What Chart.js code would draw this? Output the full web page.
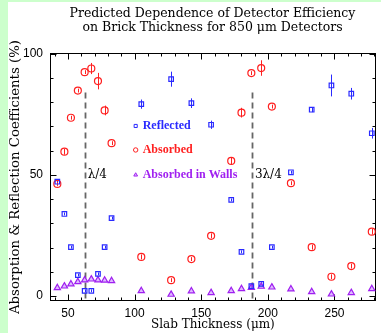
<!DOCTYPE html>
<html><head><meta charset="utf-8">
<script src="https://cdn.jsdelivr.net/npm/chart.js@4"></script>
<style>
html,body{margin:0;padding:0;background:#ccffcc;width:381px;height:333px;overflow:hidden}
#wrap{position:absolute;left:8px;top:2px;width:373px;height:331px;background:#fff}
</style></head><body>
<div id="wrap"><canvas id="c" width="373" height="331"></canvas></div>
<script>
const titleLines = ["Predicted Dependence of Detector Efficiency", "on Brick Thickness for 850 \u03bcm Detectors"];
const xTickLabels = [50, 100, 150, 200, 250];
const yTickLabels = [0, 50, 100];
const thickness = [42, 47.3, 52.2, 57.4, 62.5, 67.5, 72.5, 77.5, 82.7, 105, 127.4, 142.6, 157.4, 172.5, 180.2, 187.6, 195, 203, 217.3, 232.9, 247.7, 262.6, 278];
const reflected = [47.2, 33.9, 20.2, 8.7, 2.2, 2.2, 9.2, 20.2, 32.2, 79.2, 89.5, 79.6, 70.7, 39.7, 18.3, 4.1, 5.1, 20.2, 51.1, 76.9, 86.9, 83.5, 67.2];
const reflectedErr = [0.8, 0.6, 0.6, 0.6, 0.6, 0.6, 0.6, 0.6, 0.6, 1.9, 3.1, 2.0, 1.7, 0.6, 0.6, 0.6, 0.6, 0.6, 0.6, 1.0, 4.5, 2.4, 2.2];
const absorbed = [46.3, 59.6, 73.6, 84.8, 92.4, 93.9, 88.7, 76.6, 63.1, 16.2, 6.6, 15.3, 24.9, 55.8, 75.7, 92.0, 94.1, 78.2, 46.6, 20.2, 8.0, 12.4, 26.6];
const absorbedErr = [0.8, 1.2, 0.8, 0.8, 0.8, 2.3, 3.4, 2.0, 0.8, 1.0, 0.8, 0.8, 1.0, 1.5, 2.0, 0.8, 3.2, 0.8, 0.8, 1.0, 1.0, 1.0, 1.2];
const walls = [3.4, 4.1, 5.0, 5.9, 6.6, 7.0, 6.6, 6.5, 6.3, 2.2, 0.7, 2.1, 1.4, 2.2, 3.0, 3.5, 4.0, 3.7, 2.9, 1.8, 0.8, 1.4, 3.0];
const seriesNames = ["Reflected", "Absorbed", "Absorbed in Walls"];
const lambdaLines = [62.5, 188];
const lambdaLabels = ["\u03bb/4", "3\u03bb/4"];
const lambdaTop = 84;
const lambdaLabelY = 50;

const BLUE = '#2a2aff', RED = '#ff2020', PURPLE = '#a020f0';
const pts = (ys) => thickness.map((x, i) => ({x, y: ys[i]}));

const decor = {
  id: 'decor',
  beforeDatasetsDraw(chart) {
    const {ctx, chartArea: a, scales: {x, y}} = chart;
    ctx.save();
    ctx.strokeStyle = '#666'; ctx.lineWidth = 1.8; ctx.setLineDash([6, 4]);
    lambdaLines.forEach(v => {
      const px = Math.round(x.getPixelForValue(v)) + 0.5;
      ctx.beginPath(); ctx.moveTo(px, y.getPixelForValue(lambdaTop)); ctx.lineTo(px, a.bottom); ctx.stroke();
    });
    ctx.setLineDash([]);
    ctx.fillStyle = '#000'; ctx.font = '12px "DejaVu Serif"'; ctx.textBaseline = 'middle'; ctx.textAlign = 'left';
    lambdaLines.forEach((v, i) => {
      ctx.fillText(lambdaLabels[i], x.getPixelForValue(v) + 3, y.getPixelForValue(lambdaLabelY));
    });
    ctx.strokeStyle = '#000'; ctx.lineWidth = 1;
    const L = Math.round(a.left) + 0.5, R = Math.round(a.right) - 0.5, T = Math.round(a.top) + 0.5, B = Math.round(a.bottom) - 0.5;
    ctx.strokeRect(L, T, R - L, B - T);
    ctx.beginPath();
    for (let v = 40; v <= 280; v += 10) {
      const px = Math.round(x.getPixelForValue(v)) + 0.5;
      const len = v % 50 === 0 ? 6 : 3;
      ctx.moveTo(px, B); ctx.lineTo(px, B - len);
      ctx.moveTo(px, T); ctx.lineTo(px, T + len);
    }
    for (let v = 0; v <= 100; v += 10) {
      const py = Math.round(y.getPixelForValue(v)) + 0.5;
      const len = v % 50 === 0 ? 6 : 3;
      ctx.moveTo(L, py); ctx.lineTo(L + len, py);
      ctx.moveTo(R, py); ctx.lineTo(R - len, py);
    }
    ctx.stroke();
    chart.data.datasets.forEach((ds) => {
      if (!ds.errors) return;
      ctx.strokeStyle = ds.borderColor; ctx.lineWidth = 1;
      ctx.beginPath();
      ds.data.forEach((p, i) => {
        const e = ds.errors[i];
        const px = Math.round(x.getPixelForValue(p.x)) + 0.5;
        ctx.moveTo(px, y.getPixelForValue(p.y + e));
        ctx.lineTo(px, y.getPixelForValue(p.y - e));
      });
      ctx.stroke();
    });
    ctx.restore();
  },
  afterDraw(chart) {
    const {ctx, scales: {x, y}} = chart;
    ctx.save();
    ctx.fillStyle = '#000'; ctx.font = '12.5px "DejaVu Serif"'; ctx.textAlign = 'center'; ctx.textBaseline = 'middle';
    ctx.fillText(titleLines[0], 204.5, 12);
    ctx.fillText(titleLines[1], 204.5, 26);
    const lx = x.getPixelForValue(100.8), tx = lx + 7;
    const rows = [70.2, 60.3, 50];
    chart.data.datasets.forEach((ds, i) => {
      const py = y.getPixelForValue(rows[i]);
      ctx.lineWidth = 1; ctx.strokeStyle = ds.borderColor; ctx.fillStyle = ds.backgroundColor;
      Chart.helpers.drawPoint(ctx, {pointStyle: ds.pointStyle, radius: 2.2, borderWidth: 1}, lx, py);
      ctx.fillStyle = ds.borderColor; ctx.font = 'bold 12px "Liberation Serif"'; ctx.textAlign = 'left'; ctx.textBaseline = 'middle';
      ctx.fillText(ds.label, tx, py);
    });
    ctx.restore();
  }
};

new Chart(document.getElementById('c'), {
  type: 'scatter',
  data: {
    datasets: [
      {label: seriesNames[0], data: pts(reflected), errors: reflectedErr, pointStyle: 'rect', pointRadius: 3.2, borderColor: BLUE, backgroundColor: 'rgba(255,255,255,0)', pointBorderWidth: 1.2},
      {label: seriesNames[1], data: pts(absorbed), errors: absorbedErr, pointStyle: 'circle', pointRadius: 3.5, borderColor: RED, backgroundColor: 'rgba(255,255,255,0)', pointBorderWidth: 1.2},
      {label: seriesNames[2], data: pts(walls), pointStyle: 'triangle', pointRadius: 3.6, borderColor: PURPLE, backgroundColor: 'rgba(200,140,255,0.6)', pointBorderWidth: 1.2}
    ]
  },
  options: {
    responsive: false, animation: false, devicePixelRatio: 1,
    layout: {padding: {top: 51, right: 2, left: 0, bottom: 0}},
    plugins: {legend: {display: false}, tooltip: {enabled: false}},
    scales: {
      x: {
        type: 'linear', min: 36.5, max: 281,
        afterBuildTicks: s => { s.ticks = xTickLabels.map(v => ({value: v})); },
        afterFit: s => { s.height = 32; },
        grid: {display: false, drawTicks: false}, border: {display: false},
        ticks: {color: '#000', padding: 5, font: {family: '"Liberation Sans"', size: 12}},
        title: {display: true, text: 'Slab Thickness (\u03bcm)', color: '#000', padding: {top: 0, bottom: 1}, font: {family: '"DejaVu Serif"', size: 12}}
      },
      y: {
        type: 'linear', min: -2, max: 100.3,
        afterBuildTicks: s => { s.ticks = yTickLabels.map(v => ({value: v})); },
        afterFit: s => { s.width = 42; },
        grid: {display: false, drawTicks: false}, border: {display: false},
        ticks: {color: '#000', padding: 7, font: {family: '"Liberation Sans"', size: 12}},
        title: {display: true, text: 'Absorption & Reflection Coefficients (%)', color: '#000', padding: {top: 0, bottom: 0}, font: {family: '"DejaVu Serif"', size: 13.3}}
      }
    }
  },
  plugins: [decor]
});
</script>
</body></html>
